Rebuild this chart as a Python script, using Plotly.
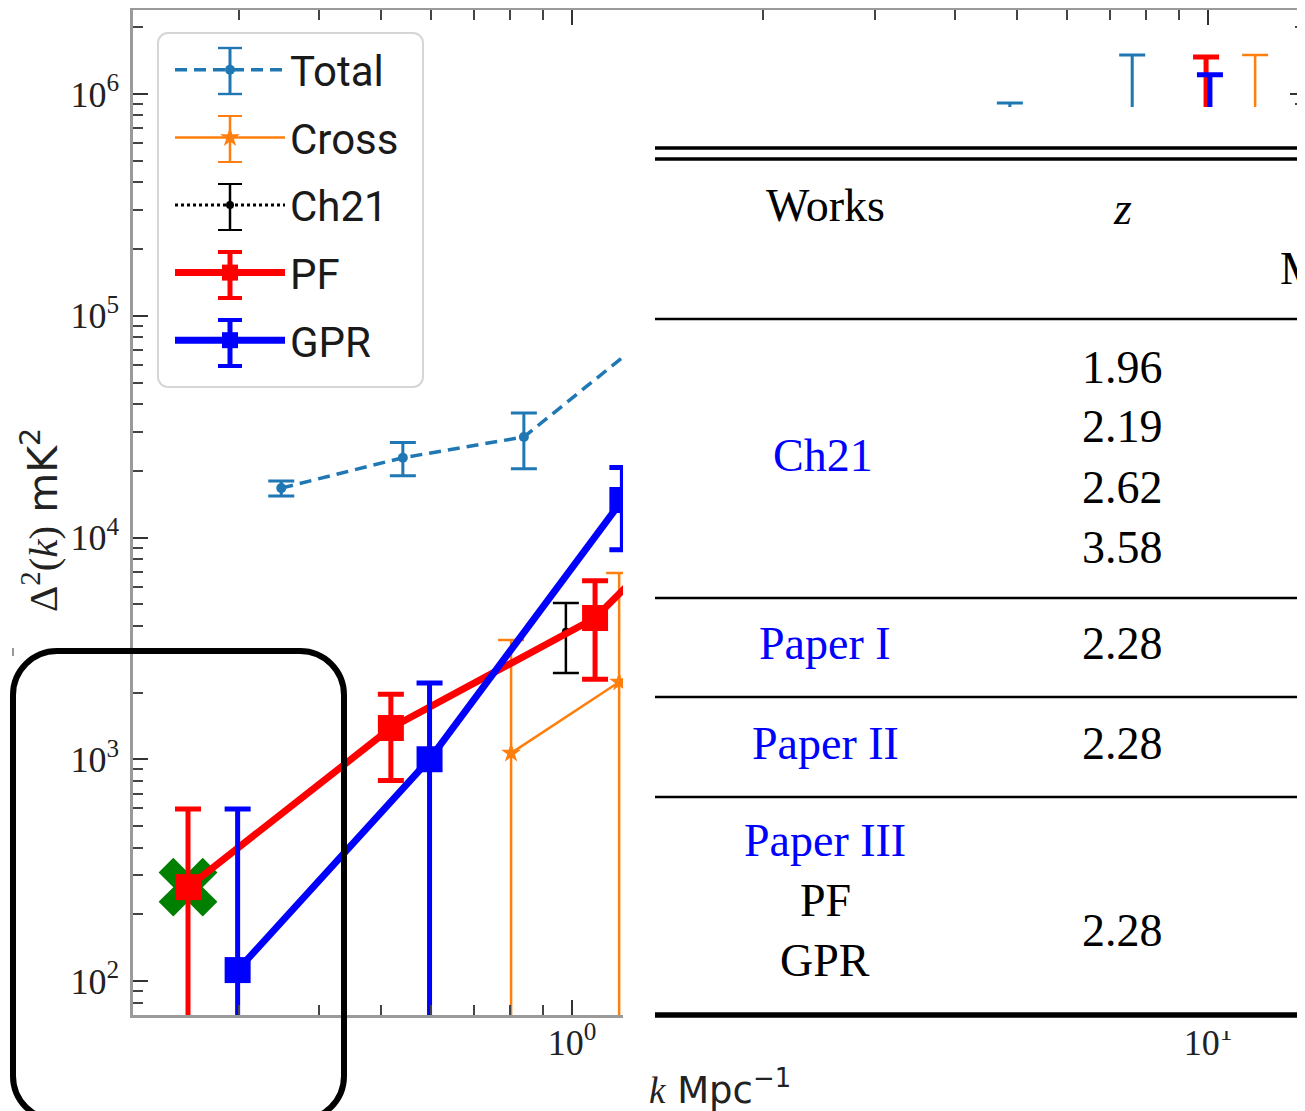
import plotly.graph_objects as go

# ---------------- data ----------------
series_names = ["Total", "Cross", "Ch21", "PF", "GPR"]

k_total = [0.349, 0.542, 0.840, 1.30, 2.02, 3.14, 4.88, 7.60]
d_total = [16700, 22900, 28400, 78000, 150000, 300000, 560000, 650000]
e_total = [1300, 3900, 8000, 15000, 40000, 80000, 350000, 850000]

k_cross = [0.802, 1.186, 1.75, 2.59, 3.83, 5.66, 8.37, 11.86]
d_cross = [1066, 2230, 5000, 10000, 25000, 60000, 150000, 400000]
e_cross = [2384, 4690, 6000, 15000, 40000, 100000, 300000, 1100000]

k_ch21 = [0.978]
d_ch21 = [3760]
e_ch21 = [1310]

k_pf = [0.249, 0.519, 1.087, 2.27, 4.75, 9.93]
d_pf = [265, 1383, 4335, 36000, 120000, 450000]
e_pf = [332, 580, 2040, 15000, 60000, 1020000]

k_gpr = [0.298, 0.597, 1.20, 2.43, 4.94, 10.07]
d_gpr = [112, 1000, 14760, 40000, 150000, 350000]
e_gpr = [485, 1208, 5950, 20000, 70000, 870000]

k_mark = [0.249]
d_mark = [265]

x_tick_vals = [1, 10]
x_tick_text = ["10<sup>0</sup>", "10<sup>1</sup>"]
y_tick_vals = [1e2, 1e3, 1e4, 1e5, 1e6]
y_tick_text = ["10<sup>2</sup>", "10<sup>3</sup>", "10<sup>4</sup>", "10<sup>5</sup>", "10<sup>6</sup>"]

table_header = ["Works", "<i>z</i>", "M"]
table_ch21_name = "Ch21"
table_ch21_z = ["1.96", "2.19", "2.62", "3.58"]
table_papers = ["Paper I", "Paper II", "Paper III"]
table_p3_methods = ["PF", "GPR"]
table_paper_z = "2.28"

# ---------------- geometry helpers ----------------
W, H = 1305, 1111
OFF = 8                      # page body margin of the browser
PL, PR, PT, PB = 133, 1305, 10, 1015   # plot area in screen pixels


def px(x):
    return (x - PL) / (PR - PL)


def py(y):
    return (PB - y) / (PB - PT)


def P(x, y):
    return f"{px(x):.5f},{py(y):.5f}"


def rounded_path(x0, y0, x1, y1, r):
    k = 0.5523 * r
    return (f"M{P(x0 + r, y0)} L{P(x1 - r, y0)} "
            f"C{P(x1 - r + k, y0)} {P(x1, y0 + r - k)} {P(x1, y0 + r)} "
            f"L{P(x1, y1 - r)} "
            f"C{P(x1, y1 - r + k)} {P(x1 - r + k, y1)} {P(x1 - r, y1)} "
            f"L{P(x0 + r, y1)} "
            f"C{P(x0 + r - k, y1)} {P(x0, y1 - r + k)} {P(x0, y1 - r)} "
            f"L{P(x0, y0 + r)} "
            f"C{P(x0, y0 + r - k)} {P(x0 + r - k, y0)} {P(x0 + r, y0)} Z")


C_TOTAL, C_CROSS, C_CH21, C_PF, C_GPR = "#1f77b4", "#ff7f0e", "#000000", "#ff0000", "#0000ff"

fig = go.Figure()


def err(arr, color, thick, width):
    return dict(type="data", array=arr, arrayminus=arr, symmetric=False,
                color=color, thickness=thick, width=width)


fig.add_trace(go.Scatter(
    x=k_total, y=d_total, name=series_names[0], mode="lines+markers",
    line=dict(color=C_TOTAL, width=3.5, dash="12px,7px"),
    marker=dict(symbol="circle", size=10, color=C_TOTAL),
    error_y=err(e_total, C_TOTAL, 3, 13), legendgroup="a"))

fig.add_trace(go.Scatter(
    x=k_cross, y=d_cross, name=series_names[1], mode="lines+markers",
    line=dict(color=C_CROSS, width=2.5),
    marker=dict(symbol="star", size=15, color=C_CROSS),
    error_y=err(e_cross, C_CROSS, 2.5, 13), legendgroup="b"))

fig.add_trace(go.Scatter(
    x=k_ch21, y=d_ch21, name=series_names[2], mode="lines+markers",
    line=dict(color=C_CH21, width=3, dash="dot"),
    marker=dict(symbol="circle", size=8, color=C_CH21),
    error_y=err(e_ch21, C_CH21, 2.5, 13), legendgroup="c"))

fig.add_trace(go.Scatter(
    x=k_mark, y=d_mark, mode="markers", showlegend=False,
    marker=dict(symbol="x", size=52, color="#008000", line=dict(width=0))))

fig.add_trace(go.Scatter(
    x=k_pf, y=d_pf, name=series_names[3], mode="lines+markers",
    line=dict(color=C_PF, width=7),
    marker=dict(symbol="square", size=26, color=C_PF),
    error_y=err(e_pf, C_PF, 5, 13), legendgroup="d"))

fig.add_trace(go.Scatter(
    x=k_gpr, y=d_gpr, name=series_names[4], mode="lines+markers",
    line=dict(color=C_GPR, width=7),
    marker=dict(symbol="square", size=26, color=C_GPR),
    error_y=err(e_gpr, C_GPR, 5, 13), legendgroup="e"))

x_minor = [m * 10 ** e for e in (-1, 0) for m in range(2, 10)]
y_minor = [m * 10 ** e for e in range(1, 7) for m in range(2, 10)]

axis_common = dict(
    type="log", showgrid=False, zeroline=False, automargin=False,
    showline=True, linecolor="#9a9a9a", linewidth=2.5, mirror="ticks",
    ticks="inside", ticklen=15, tickwidth=2, tickcolor="#333333",
    tickmode="array",
    tickfont=dict(family="Liberation Serif", size=36, color="#222222"),
)

fig.update_xaxes(**axis_common, range=[-0.6903, 1.1525],
                 tickvals=x_tick_vals, ticktext=x_tick_text,
                 minor=dict(ticks="inside", ticklen=10, tickwidth=1.5,
                            tickcolor="#444444", tickmode="array", tickvals=x_minor),
                 ticklabelstandoff=-6)
fig.update_yaxes(**axis_common, range=[1.8467, 6.3788],
                 tickvals=y_tick_vals, ticktext=y_tick_text,
                 minor=dict(ticks="inside", ticklen=10, tickwidth=1.5,
                            tickcolor="#444444", tickmode="array", tickvals=y_minor),
                 ticklabelstandoff=4)

shapes = []
# legend box
shapes.append(dict(type="path", xref="paper", yref="paper",
                   path=rounded_path(158, 33, 423, 387, 10),
                   fillcolor="white", line=dict(color="#d6d6d6", width=2), layer="above"))
# legend error-bar glyphs
leg_y = [71, 139, 207, 275, 343]
leg_x = 230
leg_cols = [C_TOTAL, C_CROSS, C_CH21, C_PF, C_GPR]
leg_w = [3, 2.5, 2.5, 5, 5]
for yy, cc, ww in zip(leg_y, leg_cols, leg_w):
    shapes.append(dict(type="line", xref="paper", yref="paper",
                       x0=px(leg_x), x1=px(leg_x), y0=py(yy - 23), y1=py(yy + 23),
                       line=dict(color=cc, width=ww), layer="above"))
    for ye in (yy - 23, yy + 23):
        shapes.append(dict(type="line", xref="paper", yref="paper",
                           x0=px(leg_x - 12), x1=px(leg_x + 12), y0=py(ye), y1=py(ye),
                           line=dict(color=cc, width=ww * 0.8), layer="above"))

# table white panel
shapes.append(dict(type="rect", xref="paper", yref="paper",
                   x0=px(623), x1=px(1320), y0=py(1031), y1=py(107),
                   fillcolor="white", line=dict(width=0), layer="above"))
for yy, ww in [(148, 3.5), (159, 3.5), (319, 2.5), (598, 2.5), (697, 2.5), (797, 2.5), (1015, 5.5)]:
    shapes.append(dict(type="line", xref="paper", yref="paper",
                       x0=px(655), x1=px(1320), y0=py(yy), y1=py(yy),
                       line=dict(color="black", width=ww), layer="above"))

# rounded highlight box
shapes.append(dict(type="path", xref="paper", yref="paper",
                   path=rounded_path(13, 651, 344, 1120, 44),
                   line=dict(color="black", width=6), layer="above"))
# small stray mark at left
shapes.append(dict(type="line", xref="paper", yref="paper",
                   x0=px(13), x1=px(13), y0=py(648), y1=py(656),
                   line=dict(color="#777777", width=1.5), layer="above"))

annotations = []


def txt(text, x, y, size=46, color="black", family="Liberation Serif", xanchor="center", angle=0):
    annotations.append(dict(text=text, x=px(x), y=py(y), xref="paper", yref="paper",
                            showarrow=False, xanchor=xanchor, yanchor="middle",
                            textangle=angle,
                            font=dict(family=family, size=size, color=color)))


txt(table_header[0], 825, 205)
txt(table_header[1], 1122, 208)
txt(table_header[2], 1278, 268, xanchor="left")
txt(table_ch21_name, 823, 455, color="#0000ff")
for i, zz in enumerate(table_ch21_z):
    txt(zz, 1122, 367 + 60 * i)
txt(table_papers[0], 825, 643, color="#0000ff")
txt(table_paper_z, 1122, 643)
txt(table_papers[1], 825, 743, color="#0000ff")
txt(table_paper_z, 1122, 743)
txt(table_papers[2], 825, 840, color="#0000ff")
txt(table_p3_methods[0], 825, 900)
txt(table_p3_methods[1], 825, 960)
txt(table_paper_z, 1122, 930)

# axis titles
txt("<span style='font-family:Liberation Serif'>Δ<sup>2</sup>(<i>k</i>)</span> mK<sup>2</sup>",
    40, 520, size=41, color="#222222", family="DejaVu Sans", angle=-90)
txt("<span style='font-family:Liberation Serif'><i>k</i></span> Mpc<sup>−1</sup>",
    720, 1087, size=37, color="#222222", family="DejaVu Sans")

fig.update_layout(
    width=W, height=H,
    margin=dict(l=PL - OFF, r=W - PR + OFF, t=PT - OFF, b=H - PB + OFF, pad=0),
    plot_bgcolor="white", paper_bgcolor="white",
    shapes=shapes, annotations=annotations,
    showlegend=True,
    legend=dict(x=px(170), y=py(36), xanchor="left", yanchor="top",
                bgcolor="rgba(0,0,0,0)", borderwidth=0,
                font=dict(family="Liberation Sans Narrow, Roboto, sans-serif", size=42, color="#1a1a1a"),
                itemwidth=110, traceorder="grouped", tracegroupgap=10),
)

fig.write_html("out.html")
